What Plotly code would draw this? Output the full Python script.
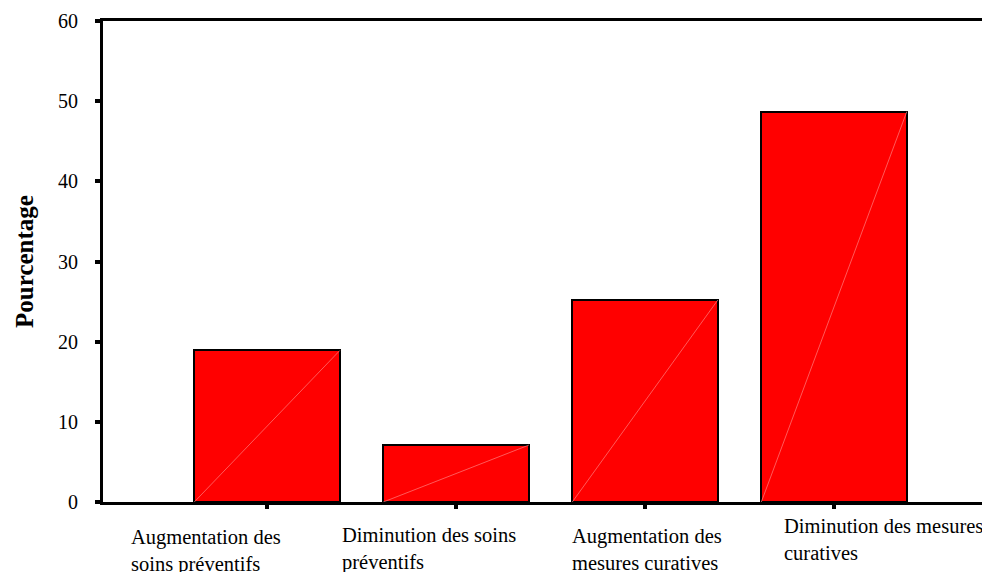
import plotly.graph_objects as go

# Données du graphique
categories = [
    "Augmentation des soins préventifs",
    "Diminution des soins préventifs",
    "Augmentation des mesures curatives",
    "Diminution des mesures curatives",
]
label_lines = [
    "Augmentation des<br>soins préventifs",
    "Diminution des soins<br>préventifs",
    "Augmentation des<br>mesures curatives",
    "Diminution des mesures<br>curatives",
]
pourcentages = [18.9, 7.1, 25.2, 48.7]
y_ticks = [0, 10, 20, 30, 40, 50, 60]

BAR_W = 0.77
FONT = "Liberation Serif, Times New Roman, serif"

fig = go.Figure()

fig.add_trace(go.Bar(
    x=list(range(len(categories))),
    y=pourcentages,
    width=BAR_W,
    marker=dict(color="#ff0000", line=dict(color="black", width=2)),
    hoverinfo="y",
    showlegend=False,
))

# fines diagonales claires dans chaque barre (artefact du graphique d'origine)
for i, v in enumerate(pourcentages):
    fig.add_trace(go.Scatter(
        x=[i - BAR_W / 2, i + BAR_W / 2],
        y=[0, v],
        mode="lines",
        line=dict(color="rgba(255,140,140,0.8)", width=0.8),
        hoverinfo="skip",
        showlegend=False,
    ))

# étiquettes de catégories, alignées à gauche comme dans l'original
label_shift = [(-138, -22), (-116, -20), (-75, -21), (-52, -11)]
for i, txt in enumerate(label_lines):
    fig.add_annotation(
        x=i, xref="x", y=0, yref="paper",
        xanchor="left", yanchor="top", align="left",
        xshift=label_shift[i][0], yshift=label_shift[i][1],
        text=txt, showarrow=False,
        font=dict(family=FONT, size=20.5, color="black"),
    )

fig.update_layout(
    width=982,
    height=564,
    margin=dict(l=95, r=0, t=13, b=70),
    plot_bgcolor="white",
    paper_bgcolor="white",
    bargap=0,
    font=dict(family=FONT, size=20, color="black"),
    xaxis=dict(
        range=[-0.868, 3.825],
        tickmode="array",
        tickvals=list(range(len(categories))),
        ticktext=[""] * len(categories),
        ticks="outside",
        ticklen=4,
        tickwidth=4,
        tickcolor="black",
        showline=True,
        linecolor="black",
        linewidth=3,
        mirror=True,
        showgrid=False,
        zeroline=False,
        fixedrange=True,
    ),
    yaxis=dict(
        range=[0, 60],
        tickvals=y_ticks,
        ticks="outside",
        ticklen=5,
        tickwidth=4,
        tickcolor="black",
        ticklabelstandoff=13,
        showline=True,
        linecolor="black",
        linewidth=3,
        showgrid=False,
        zeroline=False,
        title=dict(
            text="<b>Pourcentage</b>",
            font=dict(family=FONT, size=25, color="black"),
            standoff=18,
        ),
        fixedrange=True,
    ),
)

fig.write_html("out.html")
